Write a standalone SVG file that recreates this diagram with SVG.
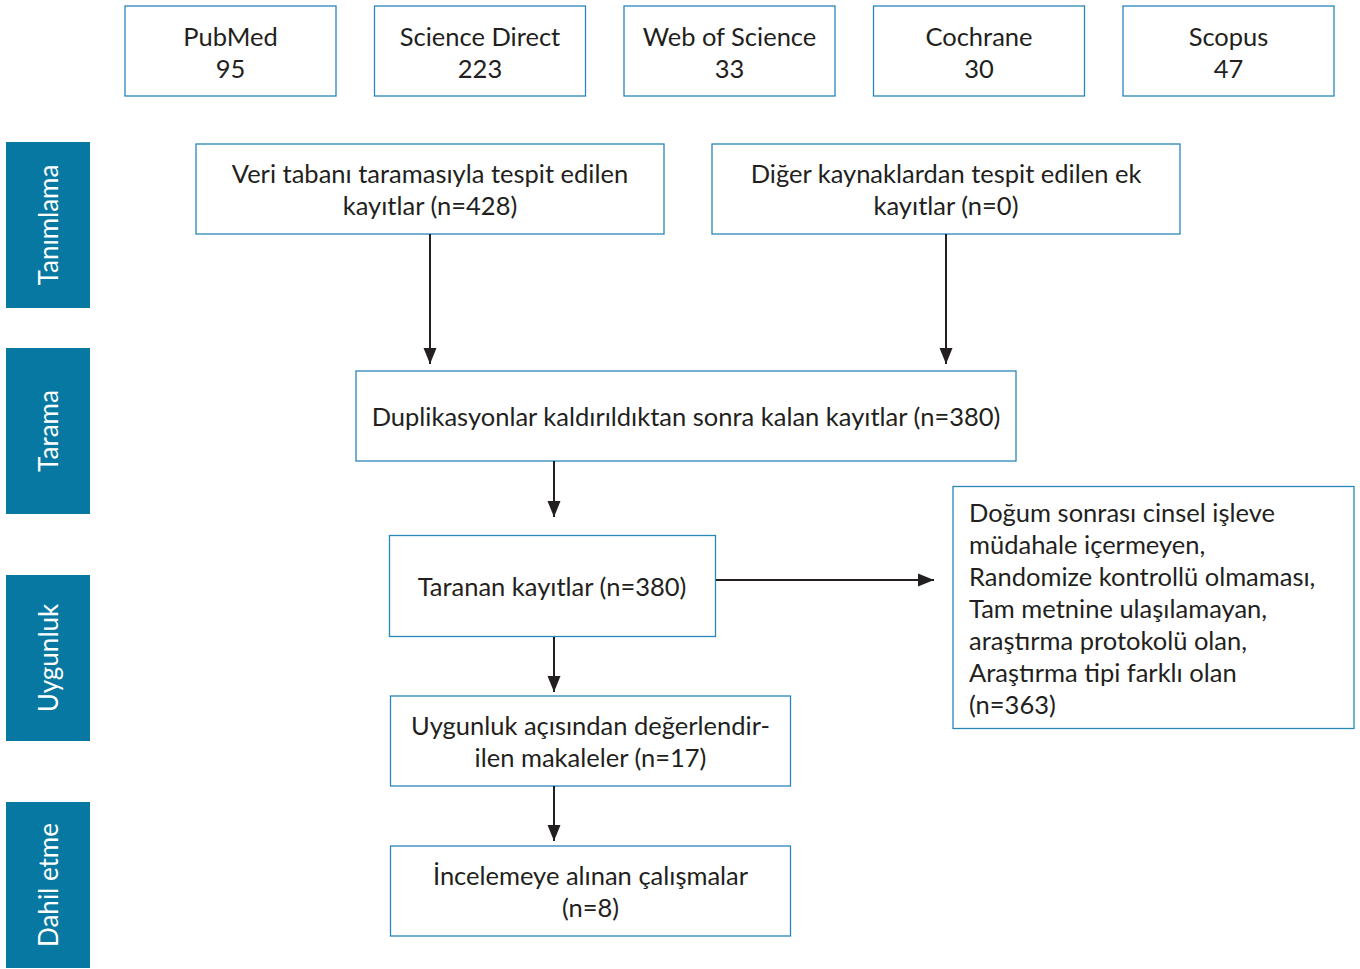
<svg xmlns="http://www.w3.org/2000/svg" width="1360" height="969" viewBox="0 0 1360 969">
<defs>
<style>
.box{fill:#fff;stroke:#2a86b8;stroke-width:1.3}
.side{fill:#0678a2}
.t{font-family:Lato,"Noto Sans",sans-serif;font-size:25.5px;fill:#231f20}
.c{text-anchor:middle}
.st{font-family:Lato,"Noto Sans",sans-serif;font-size:26px;fill:#fff;text-anchor:middle}
.ln{stroke:#231f20;stroke-width:2;fill:none}
</style>
<marker id="a" viewBox="0 0 16 16" refX="16" refY="8" markerWidth="16" markerHeight="16" markerUnits="userSpaceOnUse" orient="auto">
<path d="M0,1.5 L16,8 L0,14.5 z" fill="#231f20"/>
</marker>
</defs>
<g id="src-pubmed"><rect class="box" x="125" y="6" width="211" height="90"/><text class="t c" x="230.5" y="46">PubMed</text><text class="t c" x="230.5" y="78">95</text></g>
<g id="src-sciencedirect"><rect class="box" x="374.5" y="6" width="211" height="90"/><text class="t c" x="480" y="46">Science Direct</text><text class="t c" x="480" y="78">223</text></g>
<g id="src-wos"><rect class="box" x="624" y="6" width="211" height="90"/><text class="t c" x="729.5" y="46">Web of Science</text><text class="t c" x="729.5" y="78">33</text></g>
<g id="src-cochrane"><rect class="box" x="873.5" y="6" width="211" height="90"/><text class="t c" x="979" y="46">Cochrane</text><text class="t c" x="979" y="78">30</text></g>
<g id="src-scopus"><rect class="box" x="1123" y="6" width="211" height="90"/><text class="t c" x="1228.5" y="46">Scopus</text><text class="t c" x="1228.5" y="78">47</text></g>

<g id="phase-tanimlama"><rect class="side" x="6" y="142" width="84" height="166"/><text class="st" transform="translate(58,225) rotate(-90)">Tanımlama</text></g>
<g id="phase-tarama"><rect class="side" x="6" y="348" width="84" height="166"/><text class="st" transform="translate(58,431) rotate(-90)">Tarama</text></g>
<g id="phase-uygunluk"><rect class="side" x="6" y="575" width="84" height="166"/><text class="st" transform="translate(58,658) rotate(-90)">Uygunluk</text></g>
<g id="phase-dahil"><rect class="side" x="6" y="802" width="84" height="166"/><text class="st" transform="translate(58,885) rotate(-90)">Dahil etme</text></g>

<g id="n-veri"><rect class="box" x="196" y="144" width="468" height="90"/><text class="t c" x="430" y="183">Veri tabanı taramasıyla tespit edilen</text><text class="t c" x="430" y="215">kayıtlar (n=428)</text></g>
<g id="n-diger"><rect class="box" x="712" y="144" width="468" height="90"/><text class="t c" x="946" y="183">Diğer kaynaklardan tespit edilen ek</text><text class="t c" x="946" y="215">kayıtlar (n=0)</text></g>
<g id="n-dup"><rect class="box" x="356" y="371" width="660" height="90"/><text class="t c" x="686" y="426">Duplikasyonlar kaldırıldıktan sonra kalan kayıtlar (n=380)</text></g>
<g id="n-taranan"><rect class="box" x="389.5" y="535.5" width="326" height="101"/><text class="t c" x="552" y="596">Taranan kayıtlar (n=380)</text></g>
<g id="n-uygunluk"><rect class="box" x="390.5" y="696" width="400" height="90"/><text class="t c" x="590.5" y="735">Uygunluk açısından değerlendir-</text><text class="t c" x="590.5" y="767">ilen makaleler (n=17)</text></g>
<g id="n-inceleme"><rect class="box" x="390.5" y="846" width="400" height="90"/><text class="t c" x="590.5" y="885">İncelemeye alınan çalışmalar</text><text class="t c" x="590.5" y="917">(n=8)</text></g>
<g id="n-exclude"><rect class="box" x="953" y="486.5" width="401" height="242"/>
<text class="t" x="969" y="522">Doğum sonrası cinsel işleve</text>
<text class="t" x="969" y="554">müdahale içermeyen,</text>
<text class="t" x="969" y="586">Randomize kontrollü olmaması,</text>
<text class="t" x="969" y="618">Tam metnine ulaşılamayan,</text>
<text class="t" x="969" y="650">araştırma protokolü olan,</text>
<text class="t" x="969" y="682">Araştırma tipi farklı olan</text>
<text class="t" x="969" y="714">(n=363)</text>
</g>

<g id="connectors">
<line class="ln" x1="430" y1="234" x2="430" y2="364" marker-end="url(#a)"/>
<line class="ln" x1="946" y1="234" x2="946" y2="364" marker-end="url(#a)"/>
<line class="ln" x1="554" y1="461" x2="554" y2="517" marker-end="url(#a)"/>
<line class="ln" x1="554" y1="637" x2="554" y2="692" marker-end="url(#a)"/>
<line class="ln" x1="554" y1="786" x2="554" y2="841" marker-end="url(#a)"/>
<line class="ln" x1="716" y1="580" x2="934" y2="580" marker-end="url(#a)"/>
</g>
</svg>
